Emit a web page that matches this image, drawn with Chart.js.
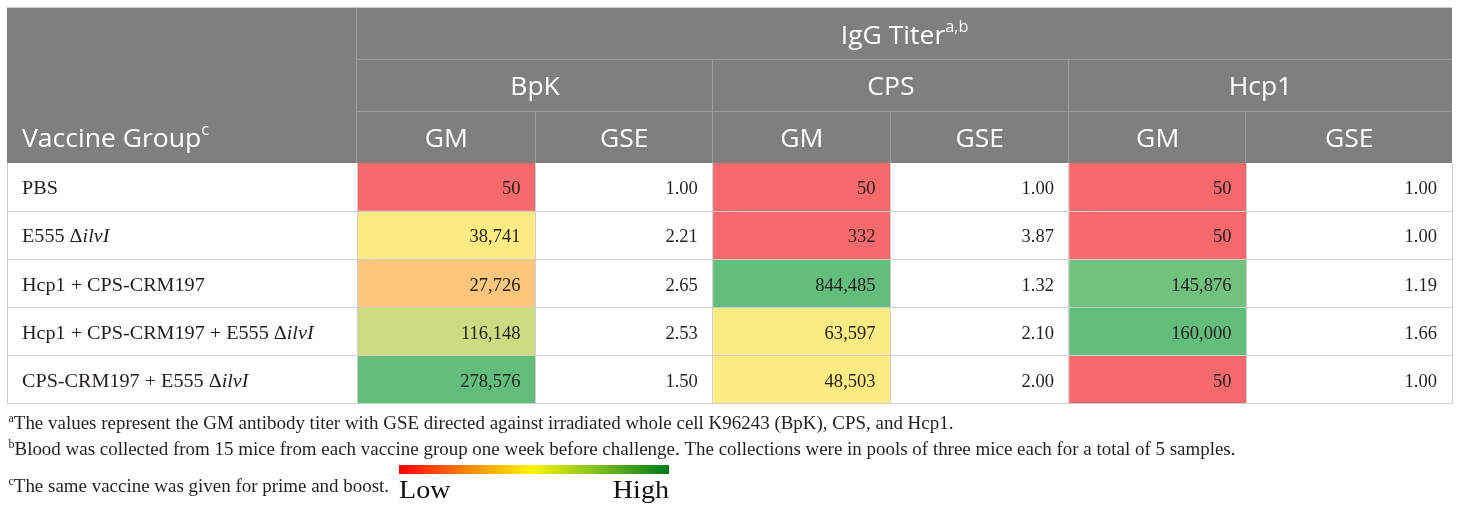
<!DOCTYPE html>
<html><head><meta charset="utf-8">
<script src="https://cdn.jsdelivr.net/npm/chart.js@4.4.1/dist/chart.umd.min.js"></script>
<style>html,body{margin:0;padding:0;background:#fff;}#wrap{position:relative;width:1460px;height:510px;}</style>
</head><body><div id="wrap"><canvas id="c"></canvas></div>
<script>
// ---------- data ----------
const groups = ["PBS", "E555 Δ<i>ilvI</i>", "Hcp1 + CPS-CRM197", "Hcp1 + CPS-CRM197 + E555 Δ<i>ilvI</i>", "CPS-CRM197 + E555 Δ<i>ilvI</i>"];
const antigens = ["BpK", "CPS", "Hcp1"];
const statLabels = ["GM", "GSE"];
const bpkGM = [50, 38741, 27726, 116148, 278576];
const bpkGSE = [1.00, 2.21, 2.65, 2.53, 1.50];
const cpsGM = [50, 332, 844485, 63597, 48503];
const cpsGSE = [1.00, 3.87, 1.32, 2.10, 2.00];
const hcpGM = [50, 50, 145876, 160000, 50];
const hcpGSE = [1.00, 1.00, 1.19, 1.66, 1.00];
const headerTitle = "IgG Titer"; const headerTitleSup = "a,b";
const firstColTitle = "Vaccine Group"; const firstColSup = "c";
const footnotes = [
  ["a", "The values represent the GM antibody titer with GSE directed against irradiated whole cell K96243 (BpK), CPS, and Hcp1."],
  ["b", "Blood was collected from 15 mice from each vaccine group one week before challenge. The collections were in pools of three mice each for a total of 5 samples."],
  ["c", "The same vaccine was given for prime and boost."]
];
const legendLabels = ["Low", "High"];

// ---------- layout (table units) ----------
const colEdges = [0, 350.2, 528.4, 705.7, 883.4, 1061.7, 1239.2, 1444.7];
const TABLE_W = colEdges[colEdges.length - 1];

const gmCols = [bpkGM, cpsGM, hcpGM];
const gseCols = [bpkGSE, cpsGSE, hcpGSE];

// Excel-like 3 colour scale (min red, median yellow, max green)
const cRed = [248, 105, 107], cYel = [255, 235, 132], cGrn = [99, 190, 123];
function mix(a, b, t) { return 'rgb(' + a.map((v, i) => Math.round(v + (b[i] - v) * t)).join(',') + ')'; }
function scaleColors(vals) {
  const s = [...vals].sort((p, q) => p - q);
  const mn = s[0], mx = s[s.length - 1], md = s[Math.floor(s.length / 2)];
  return vals.map(v => {
    if (v <= md) return mix(cRed, cYel, md === mn ? 0 : (v - mn) / (md - mn));
    return mix(cYel, cGrn, mx === md ? 1 : (v - md) / (mx - md));
  });
}

const datasets = [];
datasets.push({ kind: 'label', data: groups.map(() => [colEdges[0], colEdges[1]]), backgroundColor: '#ffffff' });
gmCols.forEach((col, j) => {
  datasets.push({ kind: 'gm', src: col, data: col.map(() => [colEdges[1 + 2 * j], colEdges[2 + 2 * j]]), backgroundColor: scaleColors(col) });
  datasets.push({ kind: 'gse', src: gseCols[j], data: gseCols[j].map(() => [colEdges[2 + 2 * j], colEdges[3 + 2 * j]]), backgroundColor: '#ffffff' });
});
datasets.forEach(d => Object.assign(d, { grouped: false, barPercentage: 1, categoryPercentage: 1, borderWidth: 0 }));

const SERIF = '"Liberation Serif", "Times New Roman", serif';
const SANS = '"Open Sans", "Noto Sans", sans-serif';
const TXT = '#231F20';

function parseRich(str, size) {
  const parts = []; const re = /<i>(.*?)<\/i>/g; let last = 0, m;
  while ((m = re.exec(str))) {
    if (m.index > last) parts.push({ text: str.slice(last, m.index), font: size + 'px ' + SERIF });
    parts.push({ text: m[1], font: 'italic ' + size + 'px ' + SERIF });
    last = re.lastIndex;
  }
  if (last < str.length) parts.push({ text: str.slice(last), font: size + 'px ' + SERIF });
  return parts;
}
function richWidth(ctx, parts) { let w = 0; parts.forEach(p => { ctx.font = p.font; w += ctx.measureText(p.text).width; }); return w; }
function drawRich(ctx, parts, x, y, align, sx) {
  sx = sx || 1;
  const w = richWidth(ctx, parts) * sx;
  let cx = align === 'right' ? x - w : align === 'center' ? x - w / 2 : x;
  ctx.save(); ctx.textAlign = 'left'; ctx.textBaseline = 'alphabetic';
  ctx.translate(cx, y); ctx.scale(sx, 1);
  let ax = 0;
  parts.forEach(p => { ctx.font = p.font; ctx.fillText(p.text, ax, p.dy || 0); ax += ctx.measureText(p.text).width; });
  ctx.restore();
}
function hline(ctx, x0, x1, y) { ctx.beginPath(); ctx.moveTo(x0, Math.round(y) + 0.5); ctx.lineTo(x1, Math.round(y) + 0.5); ctx.stroke(); }
function vline(ctx, x, y0, y1) { ctx.beginPath(); ctx.moveTo(Math.round(x) - 0.5, y0); ctx.lineTo(Math.round(x) - 0.5, y1); ctx.stroke(); }

const tablePlugin = {
  id: 'tablePlugin',
  beforeDatasetsDraw(chart) {
    const ctx = chart.ctx, a = chart.chartArea, X = v => chart.scales.x.getPixelForValue(v);
    const bandH = 51.8, top = a.top - 3 * bandH;
    const y1 = top + bandH, y2 = top + 2 * bandH, yb = a.top;
    ctx.save();
    ctx.fillStyle = '#7F807E';
    ctx.fillRect(X(0), top, X(TABLE_W) - X(0), yb - top);
    ctx.strokeStyle = '#9C9C9C'; ctx.lineWidth = 1;
    hline(ctx, X(colEdges[1]), X(TABLE_W), y1);
    hline(ctx, X(colEdges[1]), X(TABLE_W), y2);
    vline(ctx, X(colEdges[1]), top, yb);
    [3, 5].forEach(k => vline(ctx, X(colEdges[k]), y1, yb));
    [2, 4, 6].forEach(k => vline(ctx, X(colEdges[k]), y2, yb));
    ctx.fillStyle = '#ffffff';
    const big = '26px ' + SANS, sup = '16px ' + SANS;
    drawRich(ctx, [{ text: firstColTitle, font: big }, { text: firstColSup, font: sup, dy: -12 }], X(0) + 15, y2 + 35.5, 'left', 1.02);
    drawRich(ctx, [{ text: headerTitle, font: big }, { text: headerTitleSup, font: sup, dy: -12 }], (X(colEdges[1]) + X(TABLE_W)) / 2, top + 36, 'center', 1.02);
    antigens.forEach((ag, j) => {
      drawRich(ctx, [{ text: ag, font: big }], (X(colEdges[1 + 2 * j]) + X(colEdges[3 + 2 * j])) / 2, y1 + 35.5, 'center', 1.02);
      statLabels.forEach((s, k) => {
        drawRich(ctx, [{ text: s, font: big }], (X(colEdges[1 + 2 * j + k]) + X(colEdges[2 + 2 * j + k])) / 2, y2 + 35.5, 'center', 1.02);
      });
    });
    ctx.restore();
  },
  afterDatasetsDraw(chart) {
    const ctx = chart.ctx, a = chart.chartArea, X = v => chart.scales.x.getPixelForValue(v);
    ctx.save();
    // grid lines in body
    ctx.strokeStyle = '#CFCFCF'; ctx.lineWidth = 1;
    const meta0 = chart.getDatasetMeta(0);
    meta0.data.forEach((el, i) => {
      const p = el.getProps(['y', 'height'], true);
      if (i > 0) hline(ctx, X(0), X(TABLE_W), p.y - p.height / 2 - 0.5);
    });
    hline(ctx, X(0), X(TABLE_W), a.bottom - 1);
    colEdges.forEach((e, k) => { if (k > 0) vline(ctx, X(e) + 0.5, a.top, a.bottom); });
    vline(ctx, X(0) + 1, a.top, a.bottom);
    // cell texts
    ctx.fillStyle = TXT;
    chart.data.datasets.forEach((ds, d) => {
      const meta = chart.getDatasetMeta(d);
      meta.data.forEach((el, i) => {
        const p = el.getProps(['x', 'y', 'base'], true);
        const left = Math.min(p.x, p.base), right = Math.max(p.x, p.base);
        const by = p.y + 7;
        if (ds.kind === 'label') drawRich(ctx, parseRich(groups[i], 18), left + 15, by, 'left', 1.12);
        else if (ds.kind === 'gm') drawRich(ctx, [{ text: ds.src[i].toLocaleString('en-US'), font: '18px ' + SERIF }], right - 15, by, 'right', 1.03);
        else drawRich(ctx, [{ text: ds.src[i].toFixed(2), font: '18px ' + SERIF }], right - 15, by, 'right', 1.03);
      });
    });
    // footnotes
    const fnFont = '19px ' + SERIF, supFont = '12px ' + SERIF;
    ctx.font = fnFont;
    const sx = 1221 / ctx.measureText(footnotes[1][1]).width;
    const baselines = [a.bottom + 25.3, a.bottom + 50.5, a.bottom + 88];
    footnotes.forEach((f, i) => {
      drawRich(ctx, [{ text: f[0], font: supFont, dy: -7 }, { text: f[1], font: fnFont }], X(0) + 1.5, baselines[i], 'left', sx);
    });
    // colour legend
    const gx0 = 399, gx1 = 669, gy0 = a.bottom + 61, gy1 = a.bottom + 70;
    const g = ctx.createLinearGradient(gx0, 0, gx1, 0);
    g.addColorStop(0, '#FF0000'); g.addColorStop(0.25, '#FF8400'); g.addColorStop(0.49, '#FFF500');
    g.addColorStop(0.7, '#8FC81E'); g.addColorStop(1, '#007A1C');
    ctx.fillStyle = g; ctx.fillRect(gx0, gy0, gx1 - gx0, gy1 - gy0);
    ctx.fillStyle = '#111';
    drawRich(ctx, [{ text: legendLabels[0], font: '26px ' + SERIF }], gx0, a.bottom + 94, 'left', 1.08);
    drawRich(ctx, [{ text: legendLabels[1], font: '26px ' + SERIF }], gx1, a.bottom + 94, 'right', 1.08);
    ctx.restore();
  }
};

new Chart(document.getElementById('c'), {
  type: 'bar',
  data: { labels: groups, datasets },
  options: {
    indexAxis: 'y', responsive: true, maintainAspectRatio: false, animation: false, events: [],
    layout: { padding: { left: 7, top: 163, right: 8, bottom: 106 } },
    plugins: { legend: { display: false }, tooltip: { enabled: false } },
    scales: {
      x: { type: 'linear', min: 0, max: TABLE_W, display: false },
      y: { type: 'category', display: false, offset: true }
    }
  },
  plugins: [tablePlugin]
});
</script></body></html>
